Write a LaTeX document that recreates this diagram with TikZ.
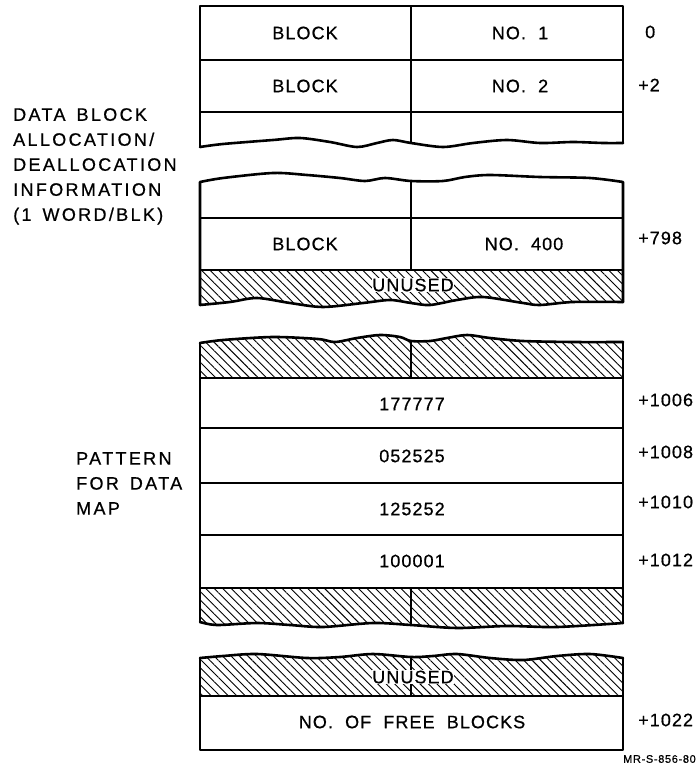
\documentclass[tikz,border=0pt]{standalone}
\usepackage{fontspec}
\setmainfont{Liberation Sans}[LetterSpace=6,WordSpace=2,FakeBold=0.7]
\newfontfamily\widefont{Liberation Sans}[LetterSpace=13,WordSpace=1.5,FakeBold=0.7]
\usetikzlibrary{patterns.meta}

\begin{document}
\begin{tikzpicture}[x=1pt,y=-1pt,
  every node/.style={font=\fontsize{18}{25}\selectfont,inner sep=1pt},
  frame/.style={line width=2.6pt,line join=round,line cap=round},
  cell/.style={line width=1.6pt},
  hatch/.style={pattern={Lines[angle=-45,distance=6pt,line width=0.9pt]}},
  side/.style={align=left,anchor=north west,font=\fontsize{18}{25}\selectfont\widefont},
  offs/.style={anchor=west},
  gap/.style={fill=white,inner sep=0.5pt}]
  \useasboundingbox (0,0) rectangle (698,773);
  % block words 0 .. 2
  \draw[cell] (200,60) -- (623,60) (200,112) -- (623,112) (411,6) -- (411,143);
  \draw[frame] (200,147) -- (200,6) -- (623,6) -- (623,143);
  \draw[frame] plot[smooth] coordinates {(200,147) (223,144) (273,140) (300,138) (330,142) (357,147) (377,143) (393,140) (411,143) (443,147) (473,143) (507,140) (540,143) (573,142) (603,143) (623,143)};
  % block word 400 and unused
  \fill[hatch] (623,270) -- (200,270) -- plot[smooth] coordinates {(200,305) (230,302) (257,298) (290,303) (323,307) (363,303) (390,300) (411,303) (430,305) (457,300) (483,297) (523,303) (540,305) (573,302) (623,302)} -- cycle;
  \draw[cell] (200,218) -- (623,218) (200,270) -- (623,270) (411,181) -- (411,270);
  \draw[frame] (200,305) -- (200,182) plot[smooth] coordinates {(200,182) (223,178) (273,173) (307,175) (340,178) (365,181) (385,178) (411,181) (443,181) (465,177) (490,175) (540,177) (590,178) (623,182)} -- (623,302);
  \draw[frame] plot[smooth] coordinates {(200,305) (230,302) (257,298) (290,303) (323,307) (363,303) (390,300) (411,303) (430,305) (457,300) (483,297) (523,303) (540,305) (573,302) (623,302)};
  % pattern words
  \fill[hatch] (200,378) -- plot[smooth] coordinates {(200,343) (223,340) (273,337) (318,339) (335,342) (357,338) (380,335) (400,337) (411,341) (430,341) (447,338) (467,335) (490,338) (523,341) (573,342) (623,342)} -- (623,378) -- cycle;
  \fill[hatch] (623,588) -- (200,588) -- plot[smooth] coordinates {(200,622) (217,625) (257,623) (290,625) (323,627) (373,623) (411,625) (457,628) (507,626) (557,627) (623,623)} -- cycle;
  \draw[cell] (200,378) -- (623,378) (200,428) -- (623,428) (200,483) -- (623,483) (200,535) -- (623,535) (200,588) -- (623,588);
  \draw[cell] (411,341) -- (411,378) (411,588) -- (411,625);
  \draw[frame] plot[smooth] coordinates {(200,343) (223,340) (273,337) (318,339) (335,342) (357,338) (380,335) (400,337) (411,341) (430,341) (447,338) (467,335) (490,338) (523,341) (573,342) (623,342)};
  \draw[frame] (200,343) -- (200,622) (623,342) -- (623,623);
  \draw[frame] plot[smooth] coordinates {(200,622) (217,625) (257,623) (290,625) (323,627) (373,623) (411,625) (457,628) (507,626) (557,627) (623,623)};
  % free count
  \fill[hatch] (200,696) -- plot[smooth] coordinates {(200,658) (223,656) (257,654) (307,658) (340,657) (373,654) (411,657) (433,656) (457,654) (490,658) (523,660) (557,656) (590,654) (623,658)} -- (623,696) -- cycle;
  \draw[cell] (200,696) -- (623,696) (411,657) -- (411,696);
  \draw[frame] plot[smooth] coordinates {(200,658) (223,656) (257,654) (307,658) (340,657) (373,654) (411,657) (433,656) (457,654) (490,658) (523,660) (557,656) (590,654) (623,658)};
  \draw[frame] (200,658) -- (200,750) -- (623,750) -- (623,658);

  % cell texts
  \node (b1) at (305,33) {BLOCK};
  \node (n1) at (520,33) {NO. 1};
  \node (b2) at (305,86) {BLOCK};
  \node (n2) at (520,86) {NO. 2};
  \node (b400) at (305,244) {BLOCK};
  \node (n400) at (524,244) {NO. 400};
  \node[gap] (u1) at (413,285) {UNUSED};
  \node (p1) at (412,404) {177777};
  \node (p2) at (412,456) {052525};
  \node (p3) at (412,509) {125252};
  \node (p4) at (412,561) {100001};
  \node[gap] (u2) at (413,677) {UNUSED};
  \node (free) at (412,722) {NO. OF FREE BLOCKS};

  % offsets
  \node[offs] (o0) at (644,32) {0};
  \node[offs] (o2) at (637,85) {+2};
  \node[offs] (o798) at (637,238) {+798};
  \node[offs] (o1006) at (637,400) {+1006};
  \node[offs] (o1008) at (637,452) {+1008};
  \node[offs] (o1010) at (637,502) {+1010};
  \node[offs] (o1012) at (637,560) {+1012};
  \node[offs] (o1022) at (637,720) {+1022};

  % side labels
  \node[side] (alloc) at (12,107) {DATA BLOCK\\ALLOCATION/\\DEALLOCATION\\INFORMATION\\(1 WORD/BLK)};
  \node[side] (patt) at (75,451) {PATTERN\\FOR DATA\\MAP};
  \node[anchor=east,font=\fontsize{11}{12}\selectfont] (ref) at (697,759) {MR-S-856-80};
\end{tikzpicture}
\end{document}
